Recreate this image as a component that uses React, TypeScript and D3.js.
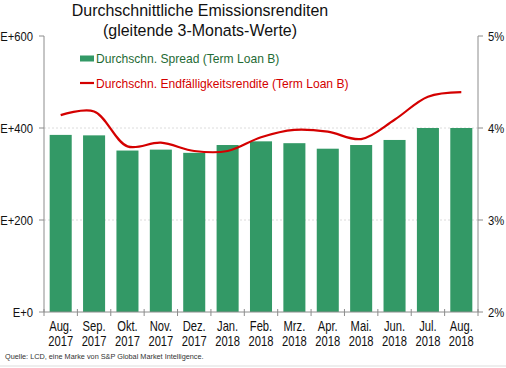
import * as React from 'react';
import * as d3 from 'd3';

const months = ['Aug.', 'Sep.', 'Okt.', 'Nov.', 'Dez.', 'Jan.', 'Feb.', 'Mrz.', 'Apr.', 'Mai.', 'Jun.', 'Jul.', 'Aug.'];
const years = ['2017', '2017', '2017', '2017', '2017', '2018', '2018', '2018', '2018', '2018', '2018', '2018', '2018'];
const spread = [385, 384, 351, 353, 346, 363, 371, 367, 355, 363, 374, 400, 400];
const yieldPct = [4.14, 4.18, 3.8, 3.84, 3.75, 3.75, 3.9, 3.98, 3.96, 3.88, 4.09, 4.34, 4.39];
const leftTicks = [0, 200, 400, 600];
const rightTicks = [2, 3, 4, 5];

const FONT = '"Liberation Sans", Arial, sans-serif';

// text squeezed horizontally, the source uses a narrow face
function Txt(props: { x: number; y: number; sx: number; size: number; fill?: string; anchor?: string; children: React.ReactNode }) {
  const { x, y, sx, size, fill = '#111', anchor = 'start', children } = props;
  return (
    <text
      transform={`translate(${x},${y}) scale(${sx},1)`}
      textAnchor={anchor}
      fontFamily={FONT}
      fontSize={size}
      fill={fill}
    >
      {children}
    </text>
  );
}

export default function App() {
  const width = 506;
  const height = 368;
  const margin = { top: 36, right: 28, bottom: 56, left: 44 };
  const innerW = width - margin.left - margin.right;
  const innerH = height - margin.top - margin.bottom;

  const keys = months.map((m, i) => i);
  const x = d3.scaleBand<number>().domain(keys).range([0, innerW]).paddingInner(0.34).paddingOuter(0.17);
  const yL = d3.scaleLinear().domain([0, 600]).range([innerH, 0]);
  const yR = d3.scaleLinear().domain([2, 5]).range([innerH, 0]);

  const cx = (i: number) => (x(i) as number) + x.bandwidth() / 2;
  const line = d3
    .line<number>()
    .x((d, i) => cx(i))
    .y(d => yR(d))
    .curve(d3.curveCatmullRom.alpha(0.5));

  const step = innerW / months.length;

  return (
    <svg width={width} height={height} style={{ position: 'absolute', left: 0, top: 0, background: '#fff' }}>
      <Txt x={200} y={15.5} sx={0.94} size={17} anchor="middle">Durchschnittliche Emissionsrenditen</Txt>
      <Txt x={200} y={36} sx={0.94} size={17} anchor="middle">(gleitende 3-Monats-Werte)</Txt>
      <g transform={`translate(${margin.left},${margin.top})`}>
        {leftTicks.slice(1, 3).map(t => (
          <line key={t} x1={0} x2={innerW} y1={yL(t)} y2={yL(t)} stroke="#dcdcdc" strokeDasharray="2,2" />
        ))}
        {spread.map((v, i) => (
          <rect key={i} x={x(i)} y={yL(v)} width={x.bandwidth()} height={innerH - yL(v)} fill="#339966" />
        ))}
        <path d={line(yieldPct) || ''} fill="none" stroke="#d40000" strokeWidth={2.2} />
        {/* left axis */}
        <line x1={0} x2={0} y1={0} y2={innerH} stroke="#8c8c8c" />
        {leftTicks.map(t => (
          <g key={t}>
            <line x1={-5} x2={0} y1={yL(t)} y2={yL(t)} stroke="#8c8c8c" />
            <Txt x={-11} y={yL(t) + 4.5} sx={0.9} size={12.5} anchor="end">{'E+' + t}</Txt>
          </g>
        ))}
        {/* right axis */}
        <line x1={innerW} x2={innerW} y1={0} y2={innerH} stroke="#8c8c8c" />
        {rightTicks.map(t => (
          <g key={t}>
            <line x1={innerW} x2={innerW + 5} y1={yR(t)} y2={yR(t)} stroke="#8c8c8c" />
            <Txt x={innerW + 10} y={yR(t) + 4.5} sx={0.9} size={12.5}>{t + '%'}</Txt>
          </g>
        ))}
        {/* bottom axis */}
        <line x1={0} x2={innerW} y1={innerH} y2={innerH} stroke="#8c8c8c" />
        {d3.range(months.length + 1).map(i => (
          <line key={i} x1={i * step} x2={i * step} y1={innerH - 3} y2={innerH + 4} stroke="#8c8c8c" />
        ))}
        {months.map((m, i) => (
          <g key={i}>
            <Txt x={cx(i)} y={innerH + 19} sx={0.8} size={14} anchor="middle">{m}</Txt>
            <Txt x={cx(i)} y={innerH + 34} sx={0.8} size={14} anchor="middle">{years[i]}</Txt>
          </g>
        ))}
        {/* legend */}
        <rect x={36} y={19.5} width={14} height={6} fill="#339966" />
        <Txt x={52} y={27} sx={0.93} size={13} fill="#1f6b35">Durchschn. Spread (Term Loan B)</Txt>
        <line x1={36} x2={50} y1={47} y2={47} stroke="#d40000" strokeWidth={2.2} />
        <Txt x={52} y={52} sx={0.93} size={13} fill="#d40000">Durchschn. Endfälligkeitsrendite (Term Loan B)</Txt>
      </g>
      <text x={5} y={359} fontFamily={FONT} fontSize={7.3} fill="#333">
        Quelle: LCD, eine Marke von S&amp;P Global Market Intelligence.
      </text>
      <line x1={0} x2={width} y1={366} y2={366} stroke="#ddd" />
    </svg>
  );
}
